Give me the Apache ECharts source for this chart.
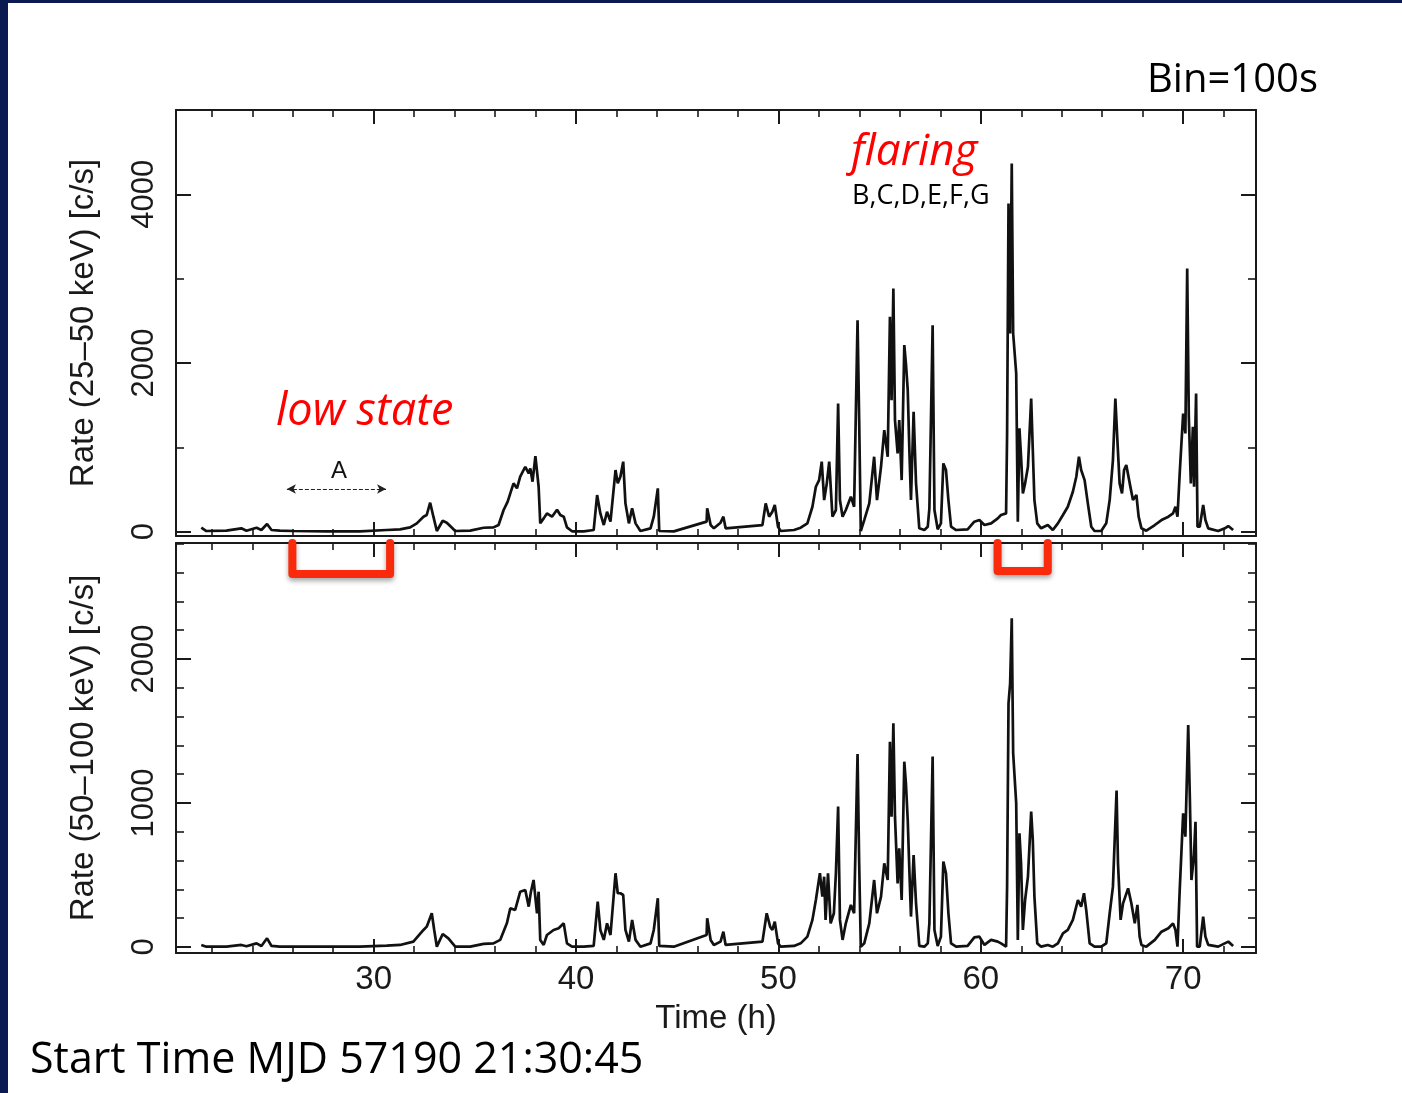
<!DOCTYPE html>
<html>
<head>
<meta charset="utf-8">
<title>Light curve 25-50 / 50-100 keV</title>
<script src="https://cdn.jsdelivr.net/npm/echarts@6/dist/echarts.min.js"></script>
<style>
  html, body { margin: 0; padding: 0; background: #fff; }
  #chart { width: 1402px; height: 1093px; }
</style>
</head>
<body>
<div id="chart"></div>
<script>
// [time (h), rate (c/s)]
const band25to50 = [
  [21.48, 47], [21.73, 8], [22.72, 12], [23.46, 40], [23.71, 12], [24.21, 47], [24.45, 20],
  [24.73, 91], [24.95, 20], [25.36, 12], [26.02, 8], [27.67, 4], [29.32, 4], [30.64, 20],
  [31.30, 28], [31.80, 51], [32.13, 99], [32.46, 178], [32.62, 198], [32.79, 344], [32.95, 178],
  [33.12, 8], [33.41, 130], [33.61, 107], [33.78, 67], [34.03, 8], [34.77, 12], [35.43, 47],
  [35.92, 51], [36.17, 79], [36.42, 257], [36.62, 356], [36.75, 454], [36.91, 573], [37.08, 514],
  [37.24, 652], [37.49, 770], [37.66, 691], [37.74, 750], [37.85, 593], [37.99, 897], [38.15, 533],
  [38.23, 99], [38.40, 158], [38.56, 217], [38.81, 178], [39.06, 260], [39.22, 198], [39.39, 178],
  [39.55, 51], [39.80, 5], [40.38, 4], [40.87, 20], [41.04, 435], [41.20, 217], [41.37, 79],
  [41.53, 237], [41.70, 119], [41.95, 731], [42.06, 573], [42.19, 652], [42.33, 830], [42.44, 336],
  [42.61, 99], [42.77, 277], [42.94, 99], [43.18, 8], [43.68, 40], [43.84, 178], [44.04, 514],
  [44.11, 8], [44.83, 4], [46.45, 119], [46.48, 277], [46.65, 79], [46.81, 40], [47.14, 107],
  [47.28, 178], [47.39, 40], [47.47, 32], [49.21, 79], [49.37, 336], [49.54, 178], [49.70, 237],
  [49.82, 316], [49.98, 59], [50.11, 8], [50.77, 20], [51.10, 47], [51.43, 99], [51.68, 296],
  [51.85, 533], [52.01, 612], [52.14, 830], [52.26, 375], [52.39, 573], [52.51, 830], [52.67, 178],
  [52.84, 257], [52.95, 1521], [53.04, 375], [53.17, 178], [53.33, 257], [53.58, 415], [53.74, 296],
  [53.91, 2508], [53.99, 1323], [54.07, 8], [54.24, 138], [54.49, 336], [54.73, 889], [54.87, 375],
  [55.07, 770], [55.23, 1205], [55.40, 889], [55.51, 2548], [55.59, 1560], [55.68, 2884], [55.76, 1323],
  [55.89, 928], [55.97, 1323], [56.09, 612], [56.22, 2212], [56.30, 1995], [56.39, 1679], [56.47, 968],
  [56.55, 375], [56.68, 1422], [56.80, 573], [56.96, 40], [57.21, 20], [57.38, 59], [57.46, 277],
  [57.62, 2449], [57.71, 257], [57.87, 28], [58.03, 99], [58.15, 810], [58.28, 731], [58.40, 375],
  [58.53, 59], [58.78, 20], [59.35, 28], [59.68, 119], [59.93, 138], [60.18, 79], [60.51, 99],
  [60.84, 158], [61.00, 198], [61.25, 217], [61.30, 1165], [61.37, 3891], [61.45, 2350], [61.53, 4365],
  [61.60, 2350], [61.68, 2350], [61.75, 1876], [61.83, 119], [61.91, 1225], [61.99, 889], [62.08, 454],
  [62.19, 573], [62.33, 770], [62.49, 1580], [62.57, 968], [62.65, 375], [62.79, 99], [62.98, 40],
  [63.31, 79], [63.56, 20], [63.81, 99], [64.06, 198], [64.30, 296], [64.55, 474], [64.72, 652],
  [64.85, 889], [64.96, 731], [65.13, 612], [65.29, 336], [65.46, 59], [65.62, 8], [65.95, 8],
  [66.20, 99], [66.37, 375], [66.53, 849], [66.65, 1580], [66.75, 1086], [66.86, 573], [66.98, 454],
  [67.08, 731], [67.19, 790], [67.36, 573], [67.52, 375], [67.69, 435], [67.80, 178], [67.94, 40],
  [68.18, 12], [68.60, 79], [68.93, 138], [69.27, 178], [69.50, 217], [69.62, 296], [69.72, 178],
  [69.83, 691], [70.00, 1402], [70.11, 1165], [70.20, 3121], [70.28, 1363], [70.38, 573], [70.48, 1244],
  [70.54, 533], [70.64, 1639], [70.71, 59], [70.82, 59], [70.99, 316], [71.10, 138], [71.24, 40],
  [71.73, 8], [72.06, 40], [72.23, 67], [72.47, 20]
];

// [time (h), rate (c/s)]
const band50to100 = [
  [21.48, 14], [21.73, 2], [22.72, 2], [23.46, 14], [23.71, 5], [24.21, 25], [24.45, 7],
  [24.73, 60], [24.95, 7], [25.36, 2], [26.02, 2], [27.67, 2], [29.32, 2], [30.64, 9],
  [31.30, 14], [31.96, 37], [32.46, 118], [32.62, 141], [32.87, 234], [32.99, 118], [33.12, 2],
  [33.41, 90], [33.69, 60], [34.03, 2], [34.77, 2], [35.43, 21], [35.92, 25], [36.25, 49],
  [36.58, 164], [36.75, 269], [36.99, 257], [37.24, 384], [37.49, 396], [37.66, 280], [37.77, 384],
  [37.90, 465], [38.07, 234], [38.15, 384], [38.23, 49], [38.40, 14], [38.56, 83], [38.89, 118],
  [39.14, 130], [39.39, 164], [39.55, 25], [39.80, 2], [40.38, 2], [40.87, 7], [41.07, 315],
  [41.20, 118], [41.37, 49], [41.53, 164], [41.70, 83], [41.95, 512], [42.06, 373], [42.19, 373],
  [42.33, 361], [42.44, 118], [42.61, 37], [42.77, 188], [42.94, 49], [43.18, 2], [43.68, 25],
  [43.84, 118], [44.04, 338], [44.11, 7], [44.83, 2], [46.45, 83], [46.48, 199], [46.65, 49],
  [46.81, 14], [47.14, 37], [47.28, 106], [47.39, 14], [47.47, 9], [49.21, 37], [49.42, 234],
  [49.59, 141], [49.70, 118], [49.82, 176], [49.98, 25], [50.11, 2], [50.77, 7], [51.10, 25],
  [51.43, 72], [51.68, 188], [51.85, 326], [52.05, 512], [52.17, 350], [52.26, 488], [52.33, 188],
  [52.45, 512], [52.58, 164], [52.74, 234], [52.84, 512], [52.95, 975], [53.04, 188], [53.17, 49],
  [53.33, 164], [53.58, 292], [53.74, 234], [53.91, 1340], [53.99, 581], [54.07, 2], [54.24, 25],
  [54.49, 164], [54.73, 465], [54.87, 234], [55.07, 350], [55.23, 581], [55.40, 465], [55.51, 1426],
  [55.59, 905], [55.68, 1553], [55.76, 905], [55.89, 442], [55.97, 685], [56.09, 326], [56.22, 1287],
  [56.30, 1137], [56.39, 882], [56.47, 535], [56.55, 211], [56.68, 639], [56.80, 303], [56.96, 7],
  [57.21, 2], [57.38, 25], [57.46, 164], [57.62, 1322], [57.71, 118], [57.87, 7], [58.03, 72],
  [58.15, 593], [58.28, 512], [58.40, 234], [58.53, 25], [58.78, 2], [59.35, 7], [59.68, 67],
  [59.93, 72], [60.18, 14], [60.51, 49], [60.84, 37], [61.00, 25], [61.25, 2], [61.30, 419],
  [61.37, 1692], [61.45, 1831], [61.53, 2283], [61.60, 1345], [61.68, 1357], [61.75, 998], [61.83, 49],
  [61.91, 789], [61.99, 581], [62.08, 118], [62.19, 326], [62.33, 488], [62.49, 940], [62.57, 743],
  [62.65, 350], [62.79, 25], [62.98, 2], [63.31, 14], [63.56, 2], [63.81, 25], [64.06, 95],
  [64.30, 118], [64.55, 188], [64.80, 326], [64.96, 280], [65.10, 373], [65.21, 257], [65.38, 25],
  [65.62, 2], [65.95, 2], [66.20, 25], [66.37, 234], [66.53, 419], [66.71, 1086], [66.78, 581],
  [66.91, 188], [67.03, 303], [67.28, 407], [67.44, 303], [67.61, 164], [67.74, 292], [67.85, 72],
  [67.94, 14], [68.18, 2], [68.60, 49], [68.93, 106], [69.27, 130], [69.50, 164], [69.62, 118],
  [69.72, 2], [69.83, 396], [70.00, 928], [70.11, 766], [70.25, 1542], [70.33, 1044], [70.41, 465],
  [70.53, 627], [70.61, 870], [70.69, 2], [70.82, 2], [70.99, 211], [71.10, 72], [71.24, 14],
  [71.73, 2], [72.23, 37], [72.47, 7]
];

// interval "A" (low state) and the red brackets marking the selected time spans
const intervalA = [25.71, 30.61];
const intervalARate = 506;
const lowStateBracket = [[25.98, 2806], [25.98, 2590], [30.81, 2590], [30.81, 2806]];
const flaringBracket = [[60.83, 2806], [60.83, 2611], [63.31, 2611], [63.31, 2806]];

const sansFont = '"Liberation Sans", Arial, Helvetica, sans-serif';
const slideFont = '"Open Sans", "Noto Sans", sans-serif';
const ink = '#1a1a1a';
const bracketRed = '#fa2a0c';

const timeRange = { min: 20.23, max: 73.6 };

const makeTimeAxis = (gridIndex, position, showLabels) => ({
  type: 'value',
  gridIndex,
  position,
  min: timeRange.min,
  max: timeRange.max,
  minInterval: 10,
  maxInterval: 10,
  name: showLabels ? 'Time (h)' : '',
  nameLocation: 'middle',
  nameGap: 49,
  nameTextStyle: { color: ink, fontSize: 33, fontFamily: sansFont },
  axisLine: { show: true, onZero: false, lineStyle: { color: ink, width: 2 } },
  axisTick: { show: true, inside: true, length: 14, lineStyle: { color: ink, width: 2 } },
  minorTick: { show: true, splitNumber: 5, length: 7, lineStyle: { color: ink, width: 1.6 } },
  splitLine: { show: false },
  axisLabel: {
    show: showLabels,
    showMinLabel: false,
    showMaxLabel: false,
    margin: 10,
    color: ink,
    fontSize: 33,
    fontFamily: sansFont,
  },
});

const makeRateAxis = (gridIndex, position, range, step, minorSplit, name) => ({
  type: 'value',
  gridIndex,
  position,
  min: range[0],
  max: range[1],
  minInterval: step,
  maxInterval: step,
  name: name || '',
  nameLocation: 'middle',
  nameGap: 76,
  nameTextStyle: { color: ink, fontSize: 33, fontFamily: sansFont },
  axisLine: { show: true, onZero: false, lineStyle: { color: ink, width: 2 } },
  axisTick: { show: true, inside: true, length: 15, lineStyle: { color: ink, width: 2 } },
  minorTick: { show: true, splitNumber: minorSplit, length: 8, lineStyle: { color: ink, width: 1.6 } },
  splitLine: { show: false },
  axisLabel: {
    show: position === 'left',
    rotate: 90,
    showMinLabel: false,
    showMaxLabel: false,
    margin: 16,
    color: ink,
    fontSize: 31,
    fontFamily: sansFont,
    formatter: (value) => String(value),
  },
});

const chart = echarts.init(document.getElementById('chart'));

const option = {
  animation: false,
  backgroundColor: '#ffffff',
  grid: [
    { left: 176, top: 110, width: 1080, height: 426 },
    { left: 176, top: 543, width: 1080, height: 410 },
  ],
  xAxis: [
    makeTimeAxis(0, 'bottom', false),
    makeTimeAxis(0, 'top', false),
    makeTimeAxis(1, 'bottom', true),
    makeTimeAxis(1, 'top', false),
  ],
  yAxis: [
    makeRateAxis(0, 'left', [-51, 5000], 2000, 2, 'Rate (25\u201350 keV) [c/s]'),
    makeRateAxis(0, 'right', [-51, 5000], 2000, 2),
    makeRateAxis(1, 'left', [-42, 2806], 1000, 5, 'Rate (50\u2013100 keV) [c/s]'),
    makeRateAxis(1, 'right', [-42, 2806], 1000, 5),
  ],
  series: [
    {
      name: '25-50 keV',
      type: 'line',
      xAxisIndex: 0,
      yAxisIndex: 0,
      data: band25to50,
      showSymbol: false,
      lineStyle: { color: '#111', width: 2.7 },
      markLine: {
        silent: true,
        symbol: ['arrow', 'arrow'],
        symbolSize: [7, 9],
        label: { show: false },
        lineStyle: { color: '#222', width: 1, type: [4, 2] },
        data: [[{ coord: [intervalA[0], intervalARate] }, { coord: [intervalA[1], intervalARate] }]],
      },
    },
    {
      name: '50-100 keV',
      type: 'line',
      xAxisIndex: 2,
      yAxisIndex: 2,
      data: band50to100,
      showSymbol: false,
      lineStyle: { color: '#111', width: 2.7 },
    },
    // red selection brackets
    ...[lowStateBracket, flaringBracket].map((points) => ({
      type: 'line',
      xAxisIndex: 2,
      yAxisIndex: 2,
      data: points,
      showSymbol: false,
      silent: true,
      clip: false,
      z: 5,
      lineStyle: {
        color: bracketRed,
        width: 8,
        cap: 'round',
        join: 'round',
        shadowColor: 'rgba(0,0,0,0.35)',
        shadowBlur: 5,
        shadowOffsetY: 3,
      },
    })),
  ],
  graphic: [
    // slide frame
    { type: 'rect', left: 0, top: 0, shape: { width: 8, height: 1093 }, style: { fill: '#0c1a52' } },
    { type: 'rect', left: 0, top: 0, shape: { width: 1402, height: 3 }, style: { fill: '#0c1a52' } },
    {
      type: 'text', right: 84, top: 61,
      style: { text: 'Bin=100s', fill: '#000', font: '40px ' + slideFont },
    },
    {
      type: 'text', left: 851, top: 130,
      style: { text: 'flaring', fill: '#ff0000', font: 'italic 44px ' + slideFont },
    },
    {
      type: 'text', left: 852, top: 183,
      style: { text: 'B,C,D,E,F,G', fill: '#000', font: '27px ' + slideFont },
    },
    {
      type: 'text', left: 276, top: 390,
      style: { text: 'low state', fill: '#ff0000', font: 'italic 45px ' + slideFont },
    },
    {
      type: 'text', left: 331, top: 459,
      style: { text: 'A', fill: '#111', font: '24px ' + sansFont },
    },
    {
      type: 'text', left: 30, top: 1039,
      style: { text: 'Start Time MJD 57190 21:30:45', fill: '#000', font: '43px ' + slideFont },
    },
  ],
};

chart.setOption(option);
</script>
</body>
</html>
